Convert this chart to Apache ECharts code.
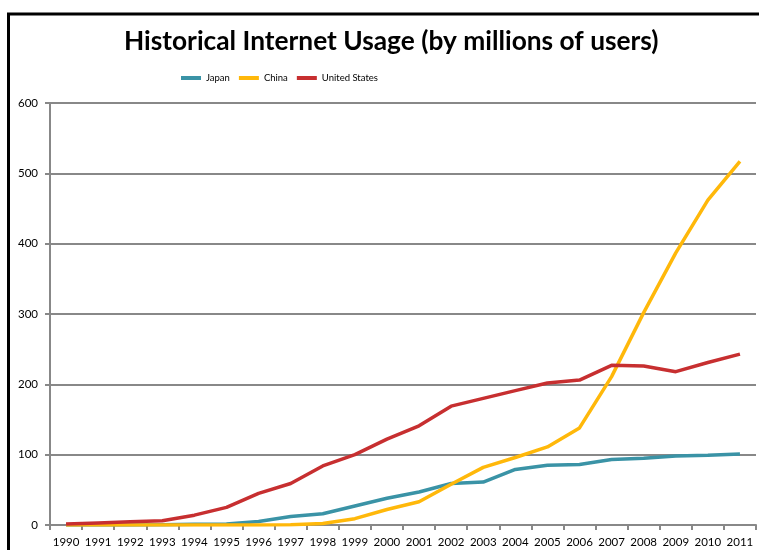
<!DOCTYPE html>
<html>
<head>
<meta charset="utf-8">
<script src="https://cdn.jsdelivr.net/npm/echarts@6/dist/echarts.min.js"></script>
<style>
html,body{margin:0;padding:0;background:#fff;}
#main{width:759px;height:550px;}
</style>
</head>
<body>
<div id="main"></div>
<script>
const years = ['1990','1991','1992','1993','1994','1995','1996','1997','1998','1999','2000','2001','2002','2003','2004','2005','2006','2007','2008','2009','2010','2011'];
const japan = [0, 0, 0, 0.5, 1, 1.5, 5, 12, 16, 27, 38, 47, 59, 61, 79, 85, 86, 93, 95, 98, 99, 101];
const china = [0, 0, 0, 0, 0, 0, 0, 0.5, 2, 9, 22, 33, 58, 82, 96, 111, 138, 211, 302, 387, 462, 517];
const unitedStates = [1.5, 3, 4.5, 6, 14, 25, 45, 59, 84, 100, 122, 141, 169, 180, 191, 202, 206, 227, 226, 218, 231, 243];
const yTicks = [0, 100, 200, 300, 400, 500, 600];

const font = 'Lato, "Open Sans", sans-serif';
const chart = echarts.init(document.getElementById('main'));
chart.setOption({
  animation: false,
  backgroundColor: '#fff',
  graphic: [{
    type: 'rect',
    shape: { x: 8.5, y: 14, width: 800, height: 600 },
    style: { fill: 'none', stroke: '#000', lineWidth: 3 },
    silent: true
  }],
  title: {
    text: 'Historical Internet Usage (by millions of users)',
    left: 119,
    top: 24,
    textStyle: { fontFamily: font, fontWeight: 'bold', fontSize: 26.3, color: '#000' }
  },
  legend: {
    top: 68,
    left: 176,
    itemWidth: 20,
    itemHeight: 4,
    itemGap: 9,
    icon: 'rect',
    textStyle: { fontFamily: font, fontSize: 9.5, color: '#000' },
    data: ['Japan', 'China', 'United States']
  },
  grid: { left: 50, right: 3, top: 103, bottom: 25, containLabel: false },
  xAxis: {
    type: 'category',
    data: years,
    boundaryGap: true,
    axisLine: { lineStyle: { color: '#888', width: 2 } },
    axisTick: { show: true, length: 5, lineStyle: { color: '#888', width: 2 } },
    axisLabel: { fontFamily: font, fontSize: 11.5, color: '#000', margin: 11, interval: 0 }
  },
  yAxis: {
    type: 'value',
    min: 0,
    max: 600,
    interval: 100,
    axisLine: { show: true, lineStyle: { color: '#888', width: 2 } },
    axisTick: { show: true, length: 5, lineStyle: { color: '#888', width: 2 } },
    axisLabel: { fontFamily: font, fontSize: 11.5, color: '#000', margin: 12,
      formatter: v => yTicks.includes(v) ? String(v) : '' },
    splitLine: { lineStyle: { color: '#888', width: 2 } }
  },
  series: [
    { name: 'Japan', type: 'line', data: japan, showSymbol: false, symbol: 'none',
      itemStyle: { color: '#3A93A6' }, lineStyle: { color: '#3A93A6', width: 3.5 } },
    { name: 'China', type: 'line', data: china, showSymbol: false, symbol: 'none',
      itemStyle: { color: '#FFB80A' }, lineStyle: { color: '#FFB80A', width: 3.5 } },
    { name: 'United States', type: 'line', data: unitedStates, showSymbol: false, symbol: 'none',
      itemStyle: { color: '#C72F30' }, lineStyle: { color: '#C72F30', width: 3.5 } }
  ]
});
</script>
</body>
</html>
